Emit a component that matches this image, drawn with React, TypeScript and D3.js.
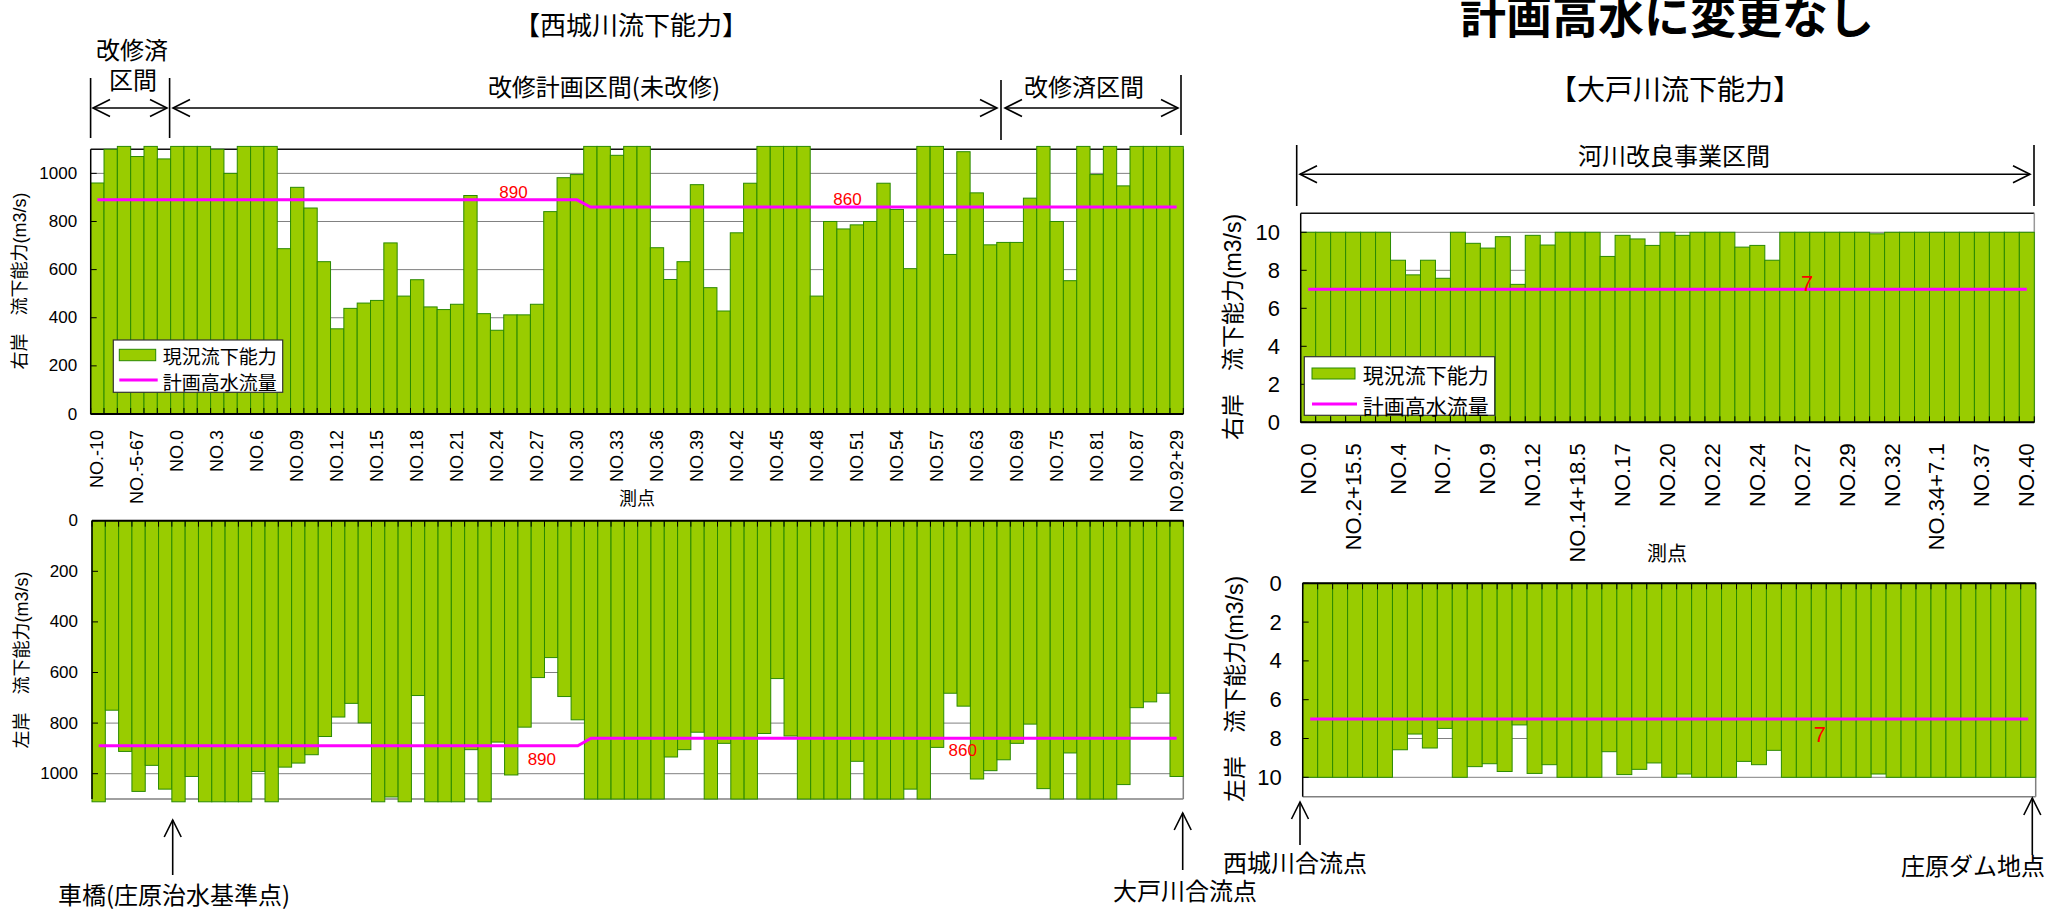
import React from "react";
import * as d3 from "d3";

// ---------------- DATA ----------------
// 西城川 (82 survey stations) - tick labels every 3rd station
const seijoTickLabels = [
  "NO.-10", "NO.-5-67", "NO.0", "NO.3", "NO.6", "NO.09", "NO.12", "NO.15", "NO.18", "NO.21",
  "NO.24", "NO.27", "NO.30", "NO.33", "NO.36", "NO.39", "NO.42", "NO.45", "NO.48", "NO.51",
  "NO.54", "NO.57", "NO.63", "NO.69", "NO.75", "NO.81", "NO.87", "NO.92+29",
];
// 右岸 現況流下能力 (m3/s)
const seijoRight = [
  960, 1100, 1112, 1070, 1112, 1060, 1112, 1112, 1112, 1100,
  1000, 1112, 1112, 1112, 687, 942, 856, 633, 354, 439,
  461, 472, 711, 490, 558, 445, 434, 456, 908, 417,
  348, 412, 412, 456, 841, 982, 995, 1112, 1112, 1075,
  1112, 1112, 691, 559, 633, 953, 525, 428, 753, 959,
  1112, 1112, 1112, 1112, 490, 800, 769, 786, 800, 959,
  850, 604, 1112, 1112, 663, 1090, 919, 703, 713, 713,
  897, 1112, 800, 554, 1112, 995, 1112, 948, 1112, 1112,
  1112, 1112,
];
// 左岸 現況流下能力 (m3/s)
const seijoLeft = [
  1111, 749, 912, 1070, 967, 1061, 1111, 1011, 1111, 1111,
  1111, 1111, 991, 1111, 974, 958, 925, 853, 776, 722,
  799, 1111, 1092, 1111, 691, 1111, 1111, 1111, 905, 1111,
  875, 1005, 816, 620, 541, 695, 787, 1100, 1100, 1100,
  1100, 1100, 1100, 934, 905, 836, 1100, 880, 1100, 1100,
  841, 624, 851, 1100, 1100, 1100, 1100, 951, 1100, 1100,
  1100, 1061, 1100, 896, 682, 733, 1021, 988, 945, 880,
  804, 1059, 1100, 918, 1100, 1100, 1100, 1043, 739, 716,
  682, 1011,
];
// 計画高水流量 segments (station index ranges)
const seijoPlan = [
  { from: 0, to: 36, q: 890 },
  { from: 37, to: 81, q: 860 },
];

// 大戸川 (49 survey stations)
const oodoTickLabels = [
  "NO.0", "NO.2+15.5", "NO.4", "NO.7", "NO.9", "NO.12", "NO.14+18.5", "NO.17", "NO.20",
  "NO.22", "NO.24", "NO.27", "NO.29", "NO.32", "NO.34+7.1", "NO.37", "NO.40",
];
const oodoRight = [
  10, 10, 10, 10, 10, 10, 8.53, 7.76, 8.53, 7.58,
  10, 9.42, 9.17, 9.77, 7.26, 9.84, 9.33, 10, 10, 10,
  8.73, 9.84, 9.65, 9.31, 10, 9.84, 10, 10, 10, 9.22,
  9.31, 8.53, 10, 10, 10, 10, 10, 10, 9.92, 10,
  10, 10, 10, 10, 10, 10, 10, 10, 10,
];
const oodoLeft = [
  10, 10, 10, 10, 10, 10, 8.58, 7.77, 8.49, 7.48,
  10, 9.45, 9.3, 9.7, 7.3, 9.8, 9.35, 10, 10, 10,
  8.68, 9.86, 9.59, 9.26, 10, 9.83, 10, 10, 10, 9.18,
  9.35, 8.61, 10, 10, 10, 10, 10, 10, 9.83, 10,
  10, 10, 10, 10, 10, 10, 10, 10, 10,
];
const oodoPlan = [{ from: 0, to: 48, q: 7 }];

const seijoTicks = [0, 200, 400, 600, 800, 1000];
const oodoTicks = [0, 2, 4, 6, 8, 10];

// ---------------- STYLE ----------------
const JP = "'Noto Sans CJK JP', sans-serif";
const LAT = "'Liberation Sans', Arial, 'Noto Sans CJK JP', sans-serif";
const BAR_FILL = "#99cc00";
const BAR_STROKE = "#2a8a00";
const PLAN = "#ff00ff";

type Seg = { from: number; to: number; q: number };
type PlanLabel = { index: number; dx: number; dy: number; text: string; q: number };

interface PanelProps {
  values: number[];
  segs: Seg[];
  x0: number;
  x1: number;
  yZero: number;
  yMax: number;
  max: number;
  ticks: number[];
  tickFont: number;
  tickGap: number;
  farColor: string;
  rightColor: string;
  catLabels?: string[];
  catEvery?: number;
  catFont?: number;
  catOffset?: number;
  planLabels: PlanLabel[];
  planFont: number;
}

function Panel(p: PanelProps) {
  const n = p.values.length;
  const x = d3.scaleBand<number>().domain(d3.range(n)).range([p.x0, p.x1]).padding(0);
  const y = d3.scaleLinear().domain([0, p.max]).range([p.yZero, p.yMax]);
  const bw = x.bandwidth();
  const cx = (i: number) => (x(i) as number) + bw / 2;
  const dir = p.yMax > p.yZero ? 1 : -1;
  const pts: [number, number][] = [];
  p.segs.forEach((s) => {
    pts.push([cx(s.from), y(s.q)]);
    pts.push([cx(s.to), y(s.q)]);
  });
  const planPath = d3.line()(pts) || "";
  return (
    <g>
      {p.ticks
        .filter((t) => t > 0)
        .map((t) => (
          <line key={"g" + t} x1={p.x0} x2={p.x1} y1={y(t)} y2={y(t)} stroke="#808080" strokeWidth={1} />
        ))}
      <line x1={p.x0} x2={p.x1} y1={y(p.max)} y2={y(p.max)} stroke={p.farColor} strokeWidth={1.5} />
      <line x1={p.x1} x2={p.x1} y1={y(0)} y2={y(p.max)} stroke={p.rightColor} strokeWidth={1.5} />
      {p.values.map((v, i) => (
        <rect
          key={"b" + i}
          x={x(i)}
          width={bw}
          y={Math.min(y(0), y(v))}
          height={Math.abs(y(v) - y(0))}
          fill={BAR_FILL}
          stroke={BAR_STROKE}
          strokeWidth={1}
        />
      ))}
      <path d={planPath} stroke={PLAN} strokeWidth={3} fill="none" />
      {p.planLabels.map((l, k) => (
        <text
          key={"pl" + k}
          x={cx(l.index) + l.dx}
          y={y(l.q) + l.dy}
          fill="#ff0000"
          fontSize={p.planFont}
          fontFamily={LAT}
          textAnchor="middle"
        >
          {l.text}
        </text>
      ))}
      <line x1={p.x0} x2={p.x0} y1={y(0)} y2={y(p.max)} stroke="#000" strokeWidth={1.5} />
      <line x1={p.x0} x2={p.x1} y1={y(0)} y2={y(0)} stroke="#000" strokeWidth={2} />
      {d3.range(n + 1).map((i) => (
        <line
          key={"ct" + i}
          x1={p.x0 + i * bw}
          x2={p.x0 + i * bw}
          y1={y(0)}
          y2={y(0) + dir * 6}
          stroke="#000"
          strokeWidth={1}
        />
      ))}
      {p.ticks.map((t) => (
        <g key={"vt" + t}>
          <line x1={p.x0} x2={p.x0 + 6} y1={y(t)} y2={y(t)} stroke="#000" strokeWidth={1} />
          <text
            x={p.x0 - p.tickGap}
            y={y(t)}
            textAnchor="end"
            dominantBaseline="central"
            fontSize={p.tickFont}
            fontFamily={LAT}
            fill="#000"
          >
            {t}
          </text>
        </g>
      ))}
      {p.catLabels &&
        p.catLabels.map((lab, k) => {
          const i = k * (p.catEvery || 1);
          return (
            <text
              key={"cl" + k}
              transform={`translate(${cx(i)},${y(0) + (p.catOffset || 0)}) rotate(-90)`}
              textAnchor="end"
              dominantBaseline="central"
              fontSize={p.catFont}
              fontFamily={LAT}
              fill="#000"
            >
              {lab}
            </text>
          );
        })}
    </g>
  );
}

function Arrow({ x1, y1, x2, y2, head1, head2 }: { x1: number; y1: number; x2: number; y2: number; head1?: boolean; head2?: boolean }) {
  const len = 17;
  const half = 8.5;
  const dx = x2 - x1;
  const dy = y2 - y1;
  const L = Math.hypot(dx, dy);
  const ux = dx / L;
  const uy = dy / L;
  const head = (tx: number, ty: number, sx: number, sy: number) =>
    `M${tx - sx * len - sy * half},${ty - sy * len + sx * half} L${tx},${ty} L${tx - sx * len + sy * half},${ty - sy * len - sx * half}`;
  return (
    <g stroke="#000" strokeWidth={1.6} fill="none">
      <line x1={x1} y1={y1} x2={x2} y2={y2} />
      {head2 && <path d={head(x2, y2, ux, uy)} />}
      {head1 && <path d={head(x1, y1, -ux, -uy)} />}
    </g>
  );
}

function VText({ x, y, size, text }: { x: number; y: number; size: number; text: string }) {
  return (
    <text
      transform={`translate(${x},${y}) rotate(-90)`}
      textAnchor="middle"
      dominantBaseline="central"
      fontSize={size}
      fontFamily={LAT}
      fill="#000"
    >
      {text}
    </text>
  );
}

function Legend({ x, y, w, h, font, rect, lineY, textX, t1Y, t2Y }: any) {
  return (
    <g>
      <rect x={x} y={y} width={w} height={h} fill="#fff" stroke="#333" strokeWidth={1.2} />
      <rect x={rect[0]} y={rect[1]} width={rect[2]} height={rect[3]} fill={BAR_FILL} stroke={BAR_STROKE} strokeWidth={1} />
      <line x1={rect[0]} x2={rect[0] + rect[2] + 2} y1={lineY} y2={lineY} stroke={PLAN} strokeWidth={3} />
      <text x={textX} y={t1Y} fontSize={font} fontFamily={JP} dominantBaseline="central" fill="#000">
        現況流下能力
      </text>
      <text x={textX} y={t2Y} fontSize={font} fontFamily={JP} dominantBaseline="central" fill="#000">
        計画高水流量
      </text>
    </g>
  );
}

export default function App() {
  return (
    <svg
      width={2045}
      height={910}
      style={{ position: "absolute", left: 0, top: 0, background: "#fff" }}
      xmlns="http://www.w3.org/2000/svg"
    >
      <rect x={0} y={0} width={2045} height={910} fill="#fff" />
      {/* titles */}
      <text x={631} y={35} textAnchor="middle" fontSize={26} fontFamily={JP} fill="#000">
        【西城川流下能力】
      </text>
      <text x={1667} y={33} textAnchor="middle" fontSize={46} fontWeight="bold" fontFamily={JP} fill="#000">
        計画高水に変更なし
      </text>
      <text x={1675} y={100} textAnchor="middle" fontSize={28} fontFamily={JP} fill="#000">
        【大戸川流下能力】
      </text>

      {/* 西城川 section brackets */}
      <g stroke="#000" strokeWidth={1.6}>
        <line x1={90.6} x2={90.6} y1={78} y2={138} />
        <line x1={169.6} x2={169.6} y1={78} y2={138} />
        <line x1={1001} x2={1001} y1={80} y2={140} />
        <line x1={1181} x2={1181} y1={75} y2={135} />
      </g>
      <Arrow x1={93} y1={108} x2={167} y2={108} head1 head2 />
      <Arrow x1={173} y1={108} x2={997} y2={108} head1 head2 />
      <Arrow x1={1005} y1={108} x2={1178} y2={108} head1 head2 />
      <text x={132} y={59} textAnchor="middle" fontSize={24} fontFamily={JP} fill="#000">
        改修済
      </text>
      <text x={133} y={89} textAnchor="middle" fontSize={24} fontFamily={JP} fill="#000">
        区間
      </text>
      <text x={604} y={96} textAnchor="middle" fontSize={24} fontFamily={JP} fill="#000">
        改修計画区間(未改修)
      </text>
      <text x={1084} y={96} textAnchor="middle" fontSize={24} fontFamily={JP} fill="#000">
        改修済区間
      </text>

      {/* 大戸川 bracket */}
      <g stroke="#000" strokeWidth={1.6}>
        <line x1={1296.7} x2={1296.7} y1={145} y2={206} />
        <line x1={2034} x2={2034} y1={145} y2={206} />
      </g>
      <Arrow x1={1300} y1={174.3} x2={2030} y2={174.3} head1 head2 />
      <text x={1674} y={165} textAnchor="middle" fontSize={24} fontFamily={JP} fill="#000">
        河川改良事業区間
      </text>

      {/* 西城川 right bank */}
      <Panel
        values={seijoRight}
        segs={seijoPlan}
        x0={90.7}
        x1={1183.3}
        yZero={414}
        yMax={149.3}
        max={1100}
        ticks={seijoTicks}
        tickFont={17}
        tickGap={13.5}
        farColor="#111"
        rightColor="#222"
        catLabels={seijoTickLabels}
        catEvery={3}
        catFont={18}
        catOffset={16}
        planLabels={[
          { index: 31, dx: 3, dy: -2, text: "890", q: 890 },
          { index: 56, dx: 4, dy: -2, text: "860", q: 860 },
        ]}
        planFont={17}
      />
      <VText x={20} y={281} size={18} text="右岸　流下能力(m3/s)" />
      <text x={637} y={497} textAnchor="middle" dominantBaseline="central" fontSize={18} fontFamily={JP} fill="#000">
        測点
      </text>
      <Legend
        x={113.3}
        y={340}
        w={169.4}
        h={52.3}
        font={19}
        rect={[119.3, 349.3, 36.4, 11.4]}
        lineY={380}
        textX={162.7}
        t1Y={355}
        t2Y={381}
      />

      {/* 西城川 left bank */}
      <Panel
        values={seijoLeft}
        segs={seijoPlan}
        x0={92}
        x1={1183.3}
        yZero={520.7}
        yMax={799}
        max={1100}
        ticks={seijoTicks}
        tickFont={17}
        tickGap={14}
        farColor="#808080"
        rightColor="#808080"
        planLabels={[
          { index: 33, dx: 4, dy: 19, text: "890", q: 890 },
          { index: 65, dx: -1, dy: 18, text: "860", q: 860 },
        ]}
        planFont={17}
      />
      <VText x={21.7} y={660} size={18} text="左岸　流下能力(m3/s)" />

      {/* 大戸川 right bank */}
      <Panel
        values={oodoRight}
        segs={oodoPlan}
        x0={1300.7}
        x1={2034.3}
        yZero={422.3}
        yMax={213.3}
        max={11}
        ticks={oodoTicks}
        tickFont={22}
        tickGap={20.7}
        farColor="#111"
        rightColor="#999"
        catLabels={oodoTickLabels}
        catEvery={3}
        catFont={22}
        catOffset={21}
        planLabels={[{ index: 33, dx: 5, dy: 2, text: "7", q: 7 }]}
        planFont={22}
      />
      <VText x={1233} y={327} size={23} text="右岸　流下能力(m3/s)" />
      <text x={1667} y={552} textAnchor="middle" dominantBaseline="central" fontSize={20} fontFamily={JP} fill="#000">
        測点
      </text>
      <Legend
        x={1304.3}
        y={356.7}
        w={190.4}
        h={58.6}
        font={21}
        rect={[1312, 368, 43, 11]}
        lineY={404}
        textX={1362.7}
        t1Y={374}
        t2Y={405}
      />

      {/* 大戸川 left bank */}
      <Panel
        values={oodoLeft}
        segs={oodoPlan}
        x0={1302.7}
        x1={2035.7}
        yZero={583.3}
        yMax={796.7}
        max={11}
        ticks={oodoTicks}
        tickFont={22}
        tickGap={21}
        farColor="#808080"
        rightColor="#808080"
        planLabels={[{ index: 34, dx: 1, dy: 23, text: "7", q: 7 }]}
        planFont={22}
      />
      <VText x={1235} y={689} size={23} text="左岸　流下能力(m3/s)" />

      {/* bottom annotations */}
      <Arrow x1={172.7} y1={875} x2={172.7} y2={820} head2 />
      <text x={58} y={904} fontSize={24} fontFamily={JP} fill="#000">
        車橋(庄原治水基準点)
      </text>
      <Arrow x1={1182.7} y1={870} x2={1182.7} y2={813} head2 />
      <text x={1185} y={900} textAnchor="middle" fontSize={24} fontFamily={JP} fill="#000">
        大戸川合流点
      </text>
      <Arrow x1={1300} y1={845} x2={1300} y2={802} head2 />
      <text x={1223} y={872} fontSize={24} fontFamily={JP} fill="#000">
        西城川合流点
      </text>
      <Arrow x1={2032.3} y1={855} x2={2032.3} y2={798} head2 />
      <text x={2045} y={875} textAnchor="end" fontSize={24} fontFamily={JP} fill="#000">
        庄原ダム地点
      </text>
    </svg>
  );
}
